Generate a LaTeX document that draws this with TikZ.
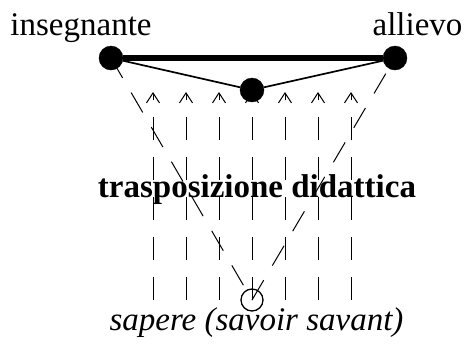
\documentclass[tikz,border=0pt]{standalone}
\usepackage{fontspec}
\setmainfont{Liberation Serif}
\usepackage{tikz}
\usetikzlibrary{arrows.meta, backgrounds}

\tikzset{
  dot/.style={circle, fill=black, draw=black, inner sep=0pt, minimum size=24pt},
  hollow/.style={circle, draw=black, line width=1.3pt, inner sep=0pt, minimum size=22pt},
  role/.style={anchor=base, inner sep=0pt, font=\fontsize{33}{40}\selectfont},
  dashline/.style={line width=1pt, dash pattern=on 23pt off 17pt},
  upline/.style={dashline, -{Straight Barb[length=10pt, width=13pt]}}
}

\begin{document}
\begin{tikzpicture}[x=1pt, y=-1pt]
  \useasboundingbox (0,0) rectangle (467,349);

  % the three actors of the didactic triangle
  \node[dot] (ins) at (111,58) {};
  \node[dot] (all) at (395,58) {};
  \node[dot] (mid) at (252,90) {};
  \node[hollow] (sap) at (252,300) {};

  \node[role] (insl) at (81,35) {insegnante};
  \node[role] (alll) at (417.5,35) {allievo};
  \node[role, font=\fontsize{33}{40}\selectfont\bfseries] (tra) at (257,197) {trasposizione didattica};
  \node[role, font=\fontsize{33}{40}\selectfont\itshape] (sapl) at (256.5,330) {sapere (savoir savant)};

  \draw[line width=6pt] (ins) -- (all);
  \draw[line width=1.7pt] (ins) -- (mid) -- (all);

  \begin{scope}[on background layer]
    \draw[dashline] (ins.center) -- (sap.center);
    \draw[dashline] (sap.center) -- (all.center);
    \foreach \x [count=\i] in {153,186,219,252,285,318,351} {
      \coordinate (b\i) at (\x,300);
      \coordinate (t\i) at (\x,92);
      \draw[upline] (b\i) -- (t\i);
    }
  \end{scope}
\end{tikzpicture}
\end{document}
